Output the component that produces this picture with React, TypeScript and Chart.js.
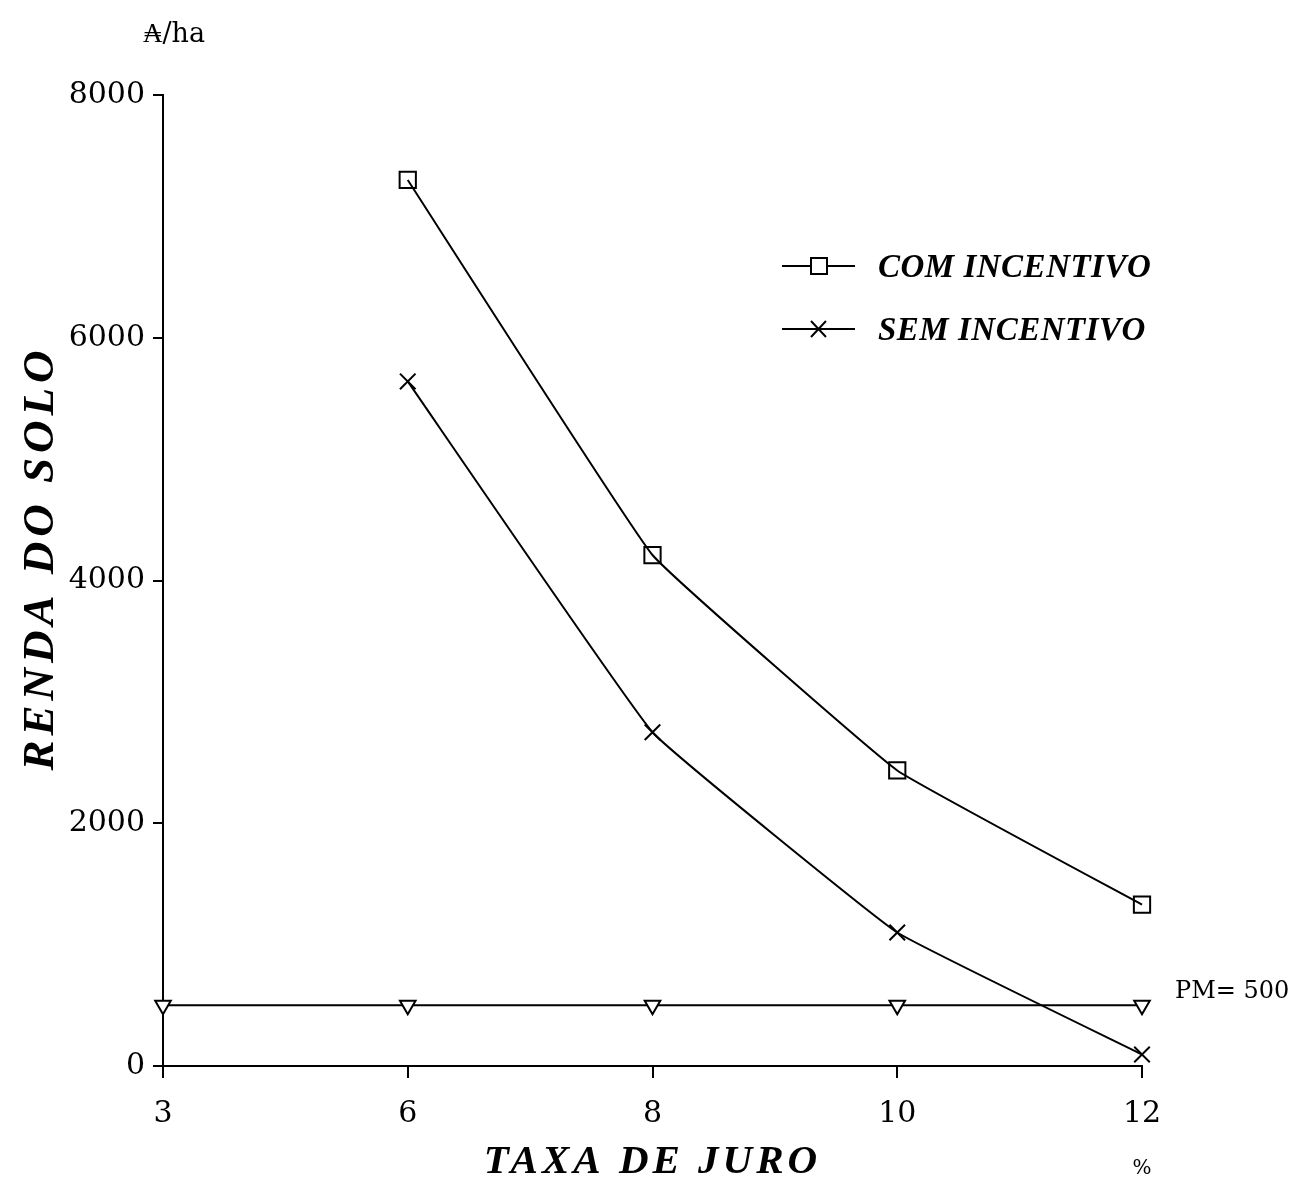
import React, { useEffect, useRef } from "react";
import { Chart, registerables } from "chart.js";

Chart.register(...registerables);

const categories = ["3", "6", "8", "10", "12"];
const comIncentivo = [null, 7300, 4210, 2435, 1330];
const semIncentivo = [null, 5640, 2750, 1100, 95];
const precoMinimo = [500, 500, 500, 500, 500];
const yTicks = [0, 2000, 4000, 6000, 8000];

const legendLabels = ["COM INCENTIVO", "SEM INCENTIVO"];
const yTitle = "RENDA DO SOLO";
const xTitle = "TAXA DE JURO";
const unitLabel = "₳/ha";
const pmLabel = "PM= 500";
const percentLabel = "%";

const W = 1294;
const H = 1183;
const AREA = { left: 163, right: 1142, top: 95, bottom: 1066 };

const textPlugin = {
  id: "extraText",
  afterDraw(chart: any) {
    const ctx = chart.ctx as CanvasRenderingContext2D;
    const xs = chart.scales.x;
    ctx.save();
    ctx.fillStyle = "#000";
    ctx.strokeStyle = "#000";

    // y title
    ctx.save();
    ctx.font = "italic bold 45px 'Liberation Serif'";
    (ctx as any).letterSpacing = "5px";
    ctx.textAlign = "center";
    ctx.textBaseline = "middle";
    ctx.translate(41, 558);
    ctx.rotate(-Math.PI / 2);
    ctx.fillText(yTitle, 0, 0);
    ctx.restore();

    // x title
    ctx.save();
    ctx.font = "italic bold 41px 'Liberation Serif'";
    (ctx as any).letterSpacing = "4px";
    ctx.textAlign = "center";
    ctx.textBaseline = "middle";
    ctx.fillText(xTitle, xs.getPixelForValue(2), 1162);
    ctx.restore();

    // unit
    ctx.font = "27px 'DejaVu Serif'";
    ctx.textAlign = "left";
    ctx.textBaseline = "alphabetic";
    ctx.fillText(unitLabel, 143, 42);

    // PM label
    ctx.font = "24px 'DejaVu Serif'";
    ctx.fillText(pmLabel, 1175, 998);

    // percent
    ctx.font = "20px 'DejaVu Serif'";
    ctx.textAlign = "center";
    ctx.fillText(percentLabel, xs.getPixelForValue(4), 1174);

    // legend
    const legendRows = [
      { y: 266, style: "rect" },
      { y: 329, style: "crossRot" },
    ];
    legendRows.forEach((row, i) => {
      ctx.lineWidth = 1.8;
      ctx.beginPath();
      ctx.moveTo(782, row.y);
      ctx.lineTo(855, row.y);
      ctx.stroke();
      ctx.lineWidth = 2;
      if (row.style === "rect") {
        ctx.fillStyle = "#fff";
        ctx.fillRect(811, row.y - 8, 16, 16);
        ctx.strokeRect(811, row.y - 8, 16, 16);
      } else {
        ctx.beginPath();
        ctx.moveTo(811, row.y - 8);
        ctx.lineTo(826, row.y + 8);
        ctx.moveTo(826, row.y - 8);
        ctx.lineTo(811, row.y + 8);
        ctx.stroke();
      }
      ctx.fillStyle = "#000";
      ctx.save();
      ctx.font = "italic bold 33px 'Liberation Serif'";
      (ctx as any).letterSpacing = "0.5px";
      ctx.textAlign = "left";
      ctx.textBaseline = "middle";
      ctx.fillText(legendLabels[i], 878, row.y + 2);
      ctx.restore();
    });

    ctx.restore();
  },
};

export default function App() {
  const ref = useRef<HTMLCanvasElement>(null);
  useEffect(() => {
    document.body.style.margin = "0";
    const canvas = ref.current!;
    const chart = new Chart(canvas, {
      type: "line",
      data: {
        labels: categories,
        datasets: [
          {
            label: legendLabels[0],
            data: comIncentivo,
            borderColor: "#000",
            borderWidth: 2,
            tension: 0.08,
            pointStyle: "rect",
            pointRadius: 11.5,
            pointBorderWidth: 2,
            pointBorderColor: "#000",
            pointBackgroundColor: "rgba(0,0,0,0)",
          },
          {
            label: legendLabels[1],
            data: semIncentivo,
            borderColor: "#000",
            borderWidth: 2,
            tension: 0.08,
            pointStyle: "crossRot",
            pointRadius: 11,
            pointBorderWidth: 2,
            pointBorderColor: "#000",
            pointBackgroundColor: "rgba(0,0,0,0)",
          },
          {
            label: "PM",
            data: precoMinimo,
            borderColor: "#000",
            borderWidth: 2,
            tension: 0,
            pointStyle: "triangle",
            rotation: 180,
            pointRadius: 9,
            pointBorderWidth: 2,
            pointBorderColor: "#000",
            pointBackgroundColor: "#fff",
          },
        ],
      },
      options: {
        responsive: false,
        animation: false,
        events: [],
        layout: {
          padding: { left: 0, top: AREA.top, right: W - AREA.right, bottom: 0 },
        },
        plugins: {
          legend: { display: false },
          tooltip: { enabled: false },
        },
        scales: {
          x: {
            type: "category",
            offset: false,
            border: { display: true, color: "#000", width: 2 },
            grid: {
              drawOnChartArea: false,
              drawTicks: true,
              tickLength: 12,
              color: "#000",
              lineWidth: 2,
            },
            ticks: {
              color: "#000",
              font: { family: "'DejaVu Serif'", size: 30 },
              padding: 18,
              maxRotation: 0,
              autoSkip: false,
            },
            afterFit(scale: any) {
              scale.height = H - AREA.bottom;
            },
          },
          y: {
            min: 0,
            max: 8000,
            border: { display: true, color: "#000", width: 2 },
            grid: {
              drawOnChartArea: false,
              drawTicks: true,
              tickLength: 10,
              color: "#000",
              lineWidth: 2,
            },
            afterBuildTicks(scale: any) {
              scale.ticks = yTicks.map((v) => ({ value: v }));
            },
            ticks: {
              color: "#000",
              font: { family: "'DejaVu Serif'", size: 30 },
              padding: 8,
              callback: (v: any) => String(v),
            },
            afterFit(scale: any) {
              scale.width = AREA.left;
            },
          },
        },
      },
      plugins: [textPlugin],
    });
    return () => chart.destroy();
  }, []);
  return (
    <div style={{ position: "absolute", left: 0, top: 0, width: W, height: H, background: "#fff" }}>
      <canvas ref={ref} width={W} height={H} style={{ display: "block" }} />
    </div>
  );
}
